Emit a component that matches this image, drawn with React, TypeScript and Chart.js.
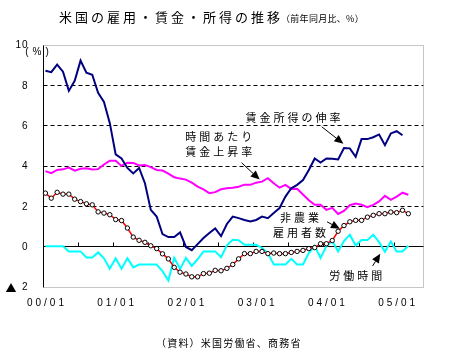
import React, { useEffect, useRef } from 'react';
import { Chart, registerables } from 'chart.js';

Chart.register(...registerables);

// ---- categories (monthly, 2000/01 .. 2005/05) ----
const startYear = 2000;
const monthCount = 65;
const months: string[] = [];
for (let k = 0; k < monthCount; k++) {
  const yy = startYear + Math.floor(k / 12);
  const mm = (k % 12) + 1;
  months.push(`${String(yy % 100).padStart(2, '0')}/${String(mm).padStart(2, '0')}`);
}

const xTickLabels = ['00/01', '01/01', '02/01', '03/01', '04/01', '05/01'];
const yTickValues = [10, 8, 6, 4, 2, 0, -2];
const yTickLabels = ['10', '8', '6', '4', '2', '0', '▲2'];
const gridValues = [2, 4, 6, 8];

// ---- series (前年同月比, %) ----
const incomeGrowth = [
  8.7, 8.63, 9.0, 8.65, 7.7, 8.2, 9.2, 8.6, 8.5, 7.6,
  7.15, 6.1, 4.55, 4.35, 3.88, 3.61, 3.88, 3.12, 1.8, 1.47,
  0.6, 0.45, 0.45, 0.68, -0.04, -0.2, 0.1, 0.4, 0.65, 0.88,
  0.5, 1.1, 1.47, 1.39, 1.3, 1.22, 1.3, 1.47, 1.39, 1.64,
  1.89, 2.46, 2.87, 3.04, 3.28, 3.78, 4.35, 4.15, 4.35, 4.33,
  4.3, 4.87, 4.85, 4.43, 5.31, 5.31, 5.4, 5.54, 5.01, 5.59,
  5.7, 5.5,
];

const hourlyWage = [
  3.72, 3.62, 3.78, 3.81, 3.9, 3.74, 3.84, 3.86, 3.8, 3.82,
  4.05, 4.24, 4.24, 3.98, 4.14, 4.13, 4.0, 4.02, 3.92, 3.78,
  3.75, 3.6, 3.42, 3.35, 3.3, 3.15, 2.95, 2.82, 2.63, 2.68,
  2.82, 2.87, 2.9, 2.95, 3.05, 3.04, 3.15, 3.2, 3.37, 3.12,
  2.9, 3.04, 2.84, 2.85, 2.56, 2.28, 2.05, 2.05, 1.8, 1.9,
  1.6, 1.75, 2.03, 2.11, 2.05, 1.93, 2.05, 2.22, 2.5, 2.3,
  2.46, 2.65, 2.55,
];

const nonfarmPayrolls = [
  2.63, 2.38, 2.67, 2.58, 2.58, 2.33, 2.21, 2.1, 2.05, 1.7,
  1.64, 1.56, 1.32, 1.27, 0.9, 0.45, 0.29, 0.19, 0.02, -0.12,
  -0.38, -0.63, -1.05, -1.29, -1.38, -1.52, -1.52, -1.36, -1.34, -1.2,
  -1.22, -1.1, -0.91, -0.63, -0.37, -0.37, -0.26, -0.26, -0.37, -0.34,
  -0.37, -0.37, -0.31, -0.26, -0.21, -0.12, -0.07, 0.12, 0.12, 0.28,
  0.74, 1.02, 1.21, 1.28, 1.28, 1.44, 1.53, 1.61, 1.61, 1.69,
  1.66, 1.78, 1.61,
];

const hoursWorked = [
  0, 0, 0, 0, -0.26, -0.26, -0.26, -0.56, -0.56, -0.31,
  -0.6, -1.12, -0.6, -1.12, -0.6, -1.05, -0.91, -0.91, -0.91, -0.91,
  -1.24, -1.7, -0.58, -1.13, -0.58, -0.98, -0.65, -0.26, -0.26, -0.26,
  -0.55, 0.04, 0.32, 0.3, 0.07, 0.07, 0.07, -0.09, -0.34, -0.91,
  -0.91, -0.91, -0.63, -0.91, -0.91, -0.34, 0.02, -0.58, 0.0, 0.26,
  -0.26, 0.25, 0.57, 0.03, 0.3, 0.3, 0.57, 0.2, -0.28, 0.23,
  -0.26, -0.26, 0.02,
];

// ---- texts ----
const titleMain = '米国の雇用・賃金・所得の推移';
const titleSub = '（前年同月比、%）';
const sourceText = '（資料）米国労働省、商務省';
const unitText = '(%)';

// annotation positions given in data space: [category index, value]
const notes = [
  { lines: ['賃金所得の伸率'], at: [42.3, 6.36], arrow: [[47.2, 5.92], [50.9, 5.08]] },
  { lines: ['時間あたり', '賃金上昇率'], at: [29.6, 5.4], arrow: [[33.5, 4.14], [36.6, 3.3]] },
  { lines: ['非農業', '雇用者数'], at: [43.4, 1.4], arrow: [[48.1, 1.21], [50.3, 0.86]] },
  { lines: ['労働時間'], at: [53.0, -1.48], arrow: [[55.9, -0.98], [57.2, -0.37]] },
];

const JP = '"Noto Sans CJK JP", "Noto Sans", sans-serif';
const NUM = '"Liberation Sans", Arial, sans-serif';

function spacedWidth(ctx: CanvasRenderingContext2D, text: string, sp: number) {
  let w = 0;
  for (const ch of text) w += ctx.measureText(ch).width + sp;
  return w - sp;
}

function drawSpaced(
  ctx: CanvasRenderingContext2D,
  text: string,
  x: number,
  y: number,
  sp: number,
  align: 'left' | 'center' | 'right' = 'left'
) {
  const w = spacedWidth(ctx, text, sp);
  let cx = align === 'center' ? x - w / 2 : align === 'right' ? x - w : x;
  ctx.textAlign = 'left';
  for (const ch of text) {
    ctx.fillText(ch, cx, y);
    cx += ctx.measureText(ch).width + sp;
  }
}

function drawArrow(ctx: CanvasRenderingContext2D, x1: number, y1: number, x2: number, y2: number) {
  const ang = Math.atan2(y2 - y1, x2 - x1);
  const headLen = 9;
  const headW = 4;
  const bx = x2 - headLen * Math.cos(ang);
  const by = y2 - headLen * Math.sin(ang);
  ctx.save();
  ctx.strokeStyle = '#000';
  ctx.fillStyle = '#000';
  ctx.lineWidth = 1;
  ctx.beginPath();
  ctx.moveTo(x1, y1);
  ctx.lineTo(bx, by);
  ctx.stroke();
  ctx.beginPath();
  ctx.moveTo(x2, y2);
  ctx.lineTo(bx + headW * Math.sin(ang), by - headW * Math.cos(ang));
  ctx.lineTo(bx - headW * Math.sin(ang), by + headW * Math.cos(ang));
  ctx.closePath();
  ctx.fill();
  ctx.restore();
}

const framePlugin = {
  id: 'frame',
  beforeDatasetsDraw(chart: any) {
    const { ctx, chartArea } = chart;
    const { left, right } = chartArea;
    const xs = chart.scales.x;
    const ys = chart.scales.y;
    const py = (v: number) => Math.round(ys.getPixelForValue(v)) + 0.5;
    const L = Math.round(left) + 0.5;
    const R = Math.round(right) + 0.5;
    ctx.save();
    ctx.lineWidth = 1;
    // dashed grid
    ctx.strokeStyle = '#000';
    ctx.setLineDash([4, 3]);
    for (const v of gridValues) {
      ctx.beginPath();
      ctx.moveTo(L, py(v));
      ctx.lineTo(R, py(v));
      ctx.stroke();
    }
    // dotted gray frame
    ctx.strokeStyle = '#8c8c8c';
    ctx.setLineDash([1, 1]);
    ctx.beginPath();
    ctx.moveTo(L, py(10));
    ctx.lineTo(R, py(10));
    ctx.lineTo(R, py(-2));
    ctx.lineTo(L, py(-2));
    ctx.stroke();
    // solid axis + zero line
    ctx.setLineDash([]);
    ctx.strokeStyle = '#000';
    ctx.beginPath();
    ctx.moveTo(L, py(10));
    ctx.lineTo(L, py(-2));
    ctx.moveTo(L, py(0));
    ctx.lineTo(R, py(0));
    // half-year tick marks on the zero line
    for (let k = 6; k < months.length; k += 6) {
      const bx = Math.round((xs.getPixelForValue(k - 1) + xs.getPixelForValue(k)) / 2) + 0.5;
      ctx.moveTo(bx, py(0));
      ctx.lineTo(bx, py(0) - 4);
    }
    ctx.stroke();
    ctx.restore();
  },
  afterDraw(chart: any) {
    const { ctx } = chart;
    const xs = chart.scales.x;
    const ys = chart.scales.y;
    ctx.save();
    ctx.fillStyle = '#000';
    ctx.textBaseline = 'middle';

    // title
    ctx.font = `13px ${JP}`;
    drawSpaced(ctx, titleMain, 59, 17, 3);
    ctx.font = `9px ${JP}`;
    drawSpaced(ctx, titleSub, 281, 18.5, 0.3);

    // y tick labels
    yTickValues.forEach((v, i) => {
      const lab = yTickLabels[i];
      const yy = ys.getPixelForValue(v) + 1;
      if (lab.startsWith('▲')) {
        ctx.font = `11px ${JP}`;
        drawSpaced(ctx, '▲', 16.5, yy, 0, 'right');
        ctx.font = `10px ${NUM}`;
        drawSpaced(ctx, lab.slice(1), 27.5, yy, 1, 'right');
      } else {
        ctx.font = `10px ${NUM}`;
        drawSpaced(ctx, lab, 27.5, yy, 1, 'right');
      }
    });
    // unit
    ctx.font = `10px ${NUM}`;
    drawSpaced(ctx, unitText, 37, 52, 4, 'center');

    // x tick labels
    ctx.font = `10px ${NUM}`;
    for (const lab of xTickLabels) {
      const idx = months.indexOf(lab);
      drawSpaced(ctx, lab, xs.getPixelForValue(idx), 303, 3, 'center');
    }

    // annotations
    for (const n of notes) {
      ctx.font = `11px ${JP}`;
      const cx = xs.getPixelForValue(n.at[0]);
      const cy = ys.getPixelForValue(n.at[1]);
      n.lines.forEach((ln, i) => {
        drawSpaced(ctx, ln, cx, cy + i * 15, 3, 'center');
      });
      const [a, b] = n.arrow;
      drawArrow(
        ctx,
        xs.getPixelForValue(a[0]),
        ys.getPixelForValue(a[1]),
        xs.getPixelForValue(b[0]),
        ys.getPixelForValue(b[1])
      );
    }

    // source
    ctx.font = `10px ${JP}`;
    drawSpaced(ctx, sourceText, 156, 343, 1.2);
    ctx.restore();
  },
};

export default function App() {
  const ref = useRef<HTMLCanvasElement | null>(null);
  useEffect(() => {
    if (!ref.current) return;
    const chart = new Chart(ref.current, {
      type: 'line',
      data: {
        labels: months,
        datasets: [
          {
            label: '賃金所得の伸率',
            data: incomeGrowth,
            borderColor: '#000080',
            borderWidth: 2,
            pointRadius: 0,
            fill: false,
          },
          {
            label: '非農業雇用者数',
            data: nonfarmPayrolls,
            borderColor: '#ff0000',
            borderWidth: 1.5,
            pointRadius: 2.2,
            pointBackgroundColor: '#ffffff',
            pointBorderColor: '#000000',
            pointBorderWidth: 1,
            fill: false,
          },
          {
            label: '時間あたり賃金上昇率',
            data: hourlyWage,
            borderColor: '#ff00ff',
            borderWidth: 2,
            pointRadius: 0,
            fill: false,
          },
          {
            label: '労働時間',
            data: hoursWorked,
            borderColor: '#00ffff',
            borderWidth: 2,
            pointRadius: 0,
            fill: false,
          },
        ],
      },
      options: {
        animation: false,
        responsive: false,
        devicePixelRatio: 1,
        layout: { padding: { left: 42.5, top: 44.5, right: 40, bottom: 75.5 } },
        elements: { line: { tension: 0 } },
        scales: {
          x: { type: 'category', display: false, offset: true },
          y: { type: 'linear', display: false, min: -2, max: 10 },
        },
        plugins: { legend: { display: false }, tooltip: { enabled: false } },
      },
      plugins: [framePlugin],
    });
    return () => chart.destroy();
  }, []);
  return (
    <div style={{ position: 'fixed', left: 0, top: 0, width: 463, height: 362, background: '#fff' }}>
      <canvas ref={ref} width={463} height={362} style={{ display: 'block' }} />
    </div>
  );
}
